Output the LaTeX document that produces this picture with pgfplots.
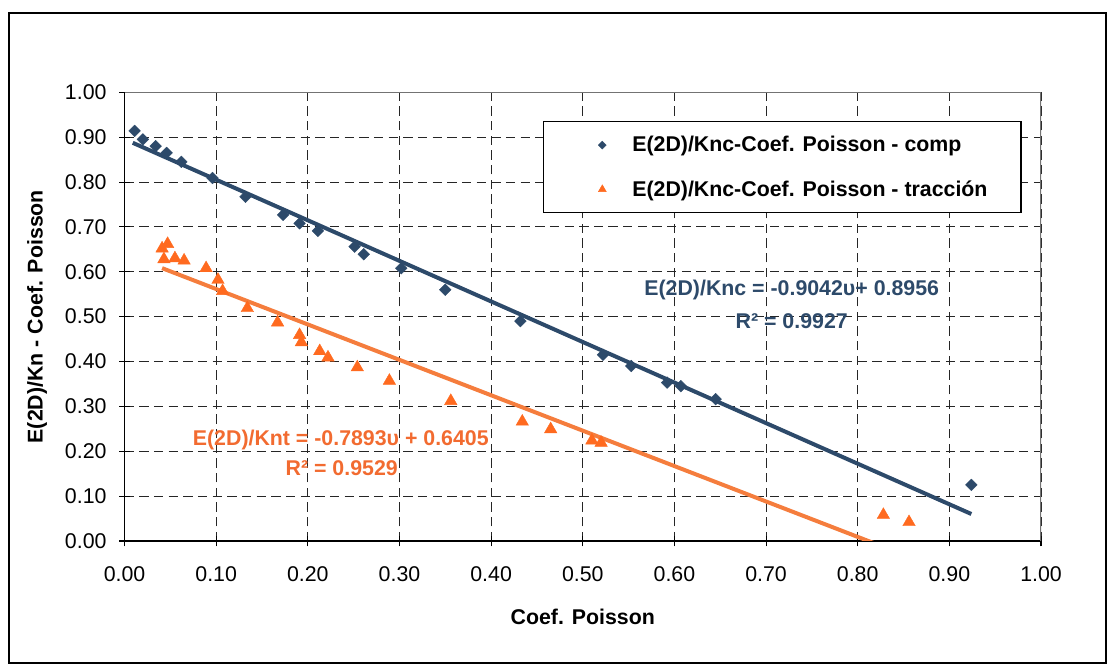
\documentclass[border=0pt]{standalone}
\usepackage{fontspec}
\setmainfont{Liberation Sans}
\usepackage{pgfplots}
\pgfplotsset{compat=1.18}
\definecolor{bluec}{HTML}{2D4A6A}
\definecolor{orangem}{HTML}{FF6A1F}
\definecolor{orangel}{HTML}{F57D3D}
\definecolor{oranget}{HTML}{F26B30}
\newcommand{\fs}{\fontsize{16}{19}\selectfont}
\pgfplotsset{
  bluelegend/.style={legend image code/.code={\path[draw=none,fill=none] (0pt,-1pt) rectangle (41.5pt,1pt); \draw[##1, mark size=2.1pt] plot coordinates {(19pt,0pt)};}},
  orangelegend/.style={legend image code/.code={\path[draw=none,fill=none] (0pt,-1pt) rectangle (41.5pt,1pt); \draw[##1, mark size=3.4pt] plot coordinates {(19pt,0pt)};}},
}
\begin{document}
\begin{tikzpicture}
\useasboundingbox (-93.4pt,-95.25pt) rectangle (739.9pt,405.75pt);
\begin{axis}[
  scale only axis, width=687.4pt, height=336.5pt,
  xmin=0, xmax=1, ymin=0, ymax=1,
  xtick={0,0.1,0.2,0.3,0.4,0.5,0.6,0.7,0.8,0.9,1.0},
  ytick={0,0.1,0.2,0.3,0.4,0.5,0.6,0.7,0.8,0.9,1.0},
  axis x line*=bottom, axis y line*=left,
  axis line style={-, black, line width=1pt},
  tick align=center, major tick length=8pt, tick style={black, line width=0.8pt},
  grid=major, grid style={black!85, line width=0.7pt, dash pattern=on 7pt off 4pt},
  tick label style={font=\fs},
  xticklabel style={/pgf/number format/assume math mode=true, /pgf/number format/fixed, /pgf/number format/fixed zerofill, /pgf/number format/precision=2, yshift=-12pt},
  yticklabel style={/pgf/number format/assume math mode=true, /pgf/number format/fixed, /pgf/number format/fixed zerofill, /pgf/number format/precision=2, xshift=-6pt},
  xlabel={Coef. Poisson}, ylabel={E(2D)/Kn - Coef. Poisson},
  every axis x label/.style={at={(axis description cs:0.5,-0.1687)}, anchor=center, font=\fs\bfseries},
  every axis y label/.style={at={(axis description cs:-0.0955,0.5)}, rotate=90, anchor=center, font=\fs\bfseries},
  legend style={at={(axis description cs:0.4566,0.936)}, anchor=north west, draw=black, line width=1pt, inner xsep=25pt, inner ysep=11pt, row sep=20pt, font=\fs\bfseries, nodes={inner sep=0pt}, fill=white},
  legend cell align=left,
]
\draw[black!55, line width=0.8pt] (rel axis cs:0,1) -- (rel axis cs:1,1) -- (rel axis cs:1,0);
\addplot[only marks, mark=square*, mark size=3.1pt, color=bluec, mark options={line width=0.3pt, rotate=45}, bluelegend]
coordinates {
(0.011,0.914) (0.020,0.895) (0.034,0.880) (0.046,0.865) (0.062,0.845) (0.096,0.809)
(0.132,0.767) (0.173,0.727) (0.191,0.708) (0.211,0.691) (0.251,0.656) (0.261,0.639)
(0.302,0.608) (0.350,0.560) (0.432,0.490) (0.522,0.415) (0.553,0.390) (0.592,0.353)
(0.607,0.345) (0.645,0.316) (0.924,0.125)
};
\addlegendentry{E(2D)/Knc-Coef. Poisson - comp}
\addplot[only marks, mark=triangle*, mark size=5.4pt, color=orangem, mark options={line width=0.3pt}, orangelegend]
coordinates {
(0.041,0.652) (0.047,0.662) (0.043,0.628) (0.055,0.630) (0.065,0.625) (0.089,0.608)
(0.102,0.582) (0.107,0.557) (0.134,0.519) (0.167,0.487) (0.191,0.459) (0.193,0.443)
(0.213,0.423) (0.222,0.409) (0.254,0.387) (0.289,0.357) (0.356,0.312) (0.434,0.266)
(0.465,0.249) (0.510,0.224) (0.520,0.219) (0.828,0.058) (0.856,0.042)
};
\addlegendentry{E(2D)/Knc-Coef. Poisson - tracción}
\addplot[bluec, line width=3pt, forget plot] coordinates {(0.009,0.8875) (0.924,0.0601)};
\addplot[orangel, line width=3pt, forget plot] coordinates {(0.041,0.6081) (0.856,-0.0351)};
\node[font=\fs\bfseries, text=bluec] at (axis cs:0.728,0.559) {E(2D)/Knc = -0.9042υ+ 0.8956};
\node[font=\fs\bfseries, text=bluec] at (axis cs:0.728,0.489) {R² = 0.9927};
\node[font=\fs\bfseries, text=oranget] at (axis cs:0.236,0.225) {E(2D)/Knt = -0.7893υ + 0.6405};
\node[font=\fs\bfseries, text=oranget] at (axis cs:0.237,0.162) {R² = 0.9529};
\end{axis}
\draw[line width=1.5pt] (-86.6pt,-91.5pt) rectangle (736.1pt,396pt);
\end{tikzpicture}
\end{document}
